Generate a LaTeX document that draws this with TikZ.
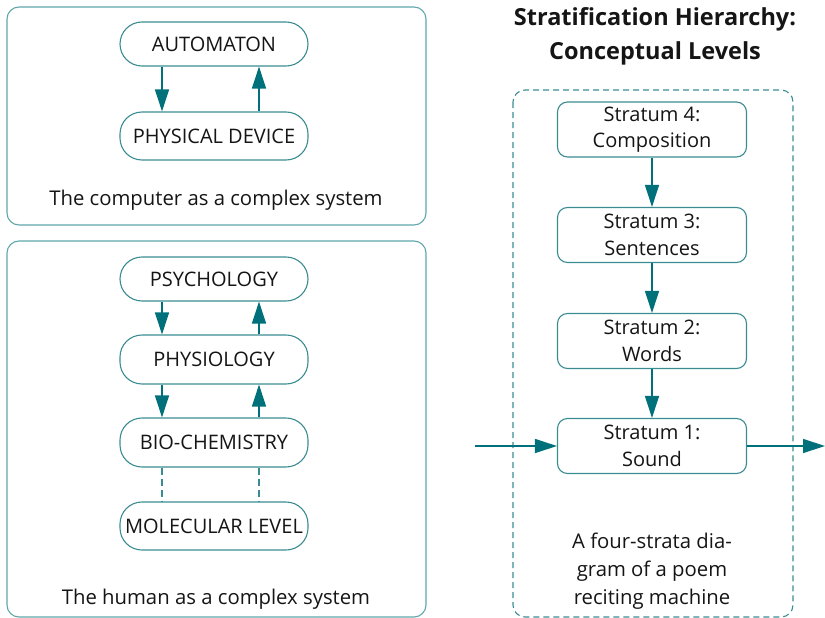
\documentclass[tikz,border=0pt]{standalone}
\usepackage{fontspec}
\setmainfont{Open Sans}
\usetikzlibrary{arrows.meta,positioning}

\definecolor{framecol}{HTML}{5FA7AC}
\definecolor{nodecol}{HTML}{3A8C92}
\definecolor{arrowcol}{HTML}{00707A}
\definecolor{textcol}{HTML}{151515}

\tikzset{
  frame/.style={draw=framecol, line width=1.1pt, rounded corners=12pt},
  dashframe/.style={draw=nodecol, line width=1.1pt, rounded corners=12pt, dash pattern=on 6pt off 4pt},
  pill/.style={draw=nodecol, line width=1.1pt, rounded corners=22pt, minimum width=188pt,
    minimum height=46pt, inner sep=0pt, font=\fontsize{20}{22}\selectfont, text=textcol},
  stratbox/.style={draw=nodecol, line width=1.1pt, rounded corners=10pt, minimum width=189pt,
    minimum height=55pt, inner sep=0pt, align=center, font=\fontsize{20}{26.5}\selectfont, text=textcol},
  caption/.style={font=\fontsize{20.3}{28}\selectfont, text=textcol, align=center},
  flow/.style={draw=arrowcol, line width=1.3pt, -{Triangle[width=14pt,length=22pt]}},
  tie/.style={draw=nodecol, line width=1.1pt, dash pattern=on 7pt off 4pt},
}

\begin{document}
\begin{tikzpicture}[x=1pt,y=-1pt]
\useasboundingbox (0,0) rectangle (825,618);

% --- computer as a complex system
\draw[frame] (7,7) rectangle (426,225);
\node[pill, minimum height=44pt] (auto) at (214,44) {AUTOMATON};
\node[pill, minimum height=48pt] (phys) at (214,136) {PHYSICAL DEVICE};
\node[caption] (capA) at (216,200) {The computer as a complex system};
\draw[flow] (auto.south -| 162,0) -- (phys.north -| 162,0);
\draw[flow] (phys.north -| 259,0) -- (auto.south -| 259,0);

% --- human as a complex system
\draw[frame] (7,241) rectangle (426,617);
\node[pill, minimum height=44pt] (psych) at (214,279) {PSYCHOLOGY};
\node[pill, minimum height=49pt] (physio) at (214,359.5) {PHYSIOLOGY};
\node[pill, minimum height=49pt] (bio) at (214,442.5) {BIO-CHEMISTRY};
\node[pill, minimum height=48pt] (mol) at (214,526) {MOLECULAR LEVEL};
\node[caption] (capB) at (216,599) {The human as a complex system};
\draw[flow] (psych.south -| 162,0) -- (physio.north -| 162,0);
\draw[flow] (physio.north -| 259,0) -- (psych.south -| 259,0);
\draw[flow] (physio.south -| 162,0) -- (bio.north -| 162,0);
\draw[flow] (bio.north -| 259,0) -- (physio.south -| 259,0);
\draw[tie] (bio.south -| 162,0) -- (mol.north -| 162,0);
\draw[tie] (bio.south -| 259,0) -- (mol.north -| 259,0);

% --- stratification hierarchy
\node[font=\fontsize{23.5}{34}\selectfont\bfseries, text=textcol, align=center] (title) at (655,36)
  {Stratification Hierarchy:\\Conceptual Levels};
\draw[dashframe] (513,90) rectangle (793,617);
\node[stratbox] (s4) at (652,129.5) {Stratum 4:\\Composition};
\node[stratbox] (s3) at (652,235) {Stratum 3:\\Sentences};
\node[stratbox] (s2) at (652,341) {Stratum 2:\\Words};
\node[stratbox] (s1) at (652,446) {Stratum 1:\\Sound};
\node[caption] (capC) at (652,571) {A four-strata dia-\\gram of a poem\\reciting machine};
\draw[flow] (s4) -- (s3);
\draw[flow] (s3) -- (s2);
\draw[flow] (s2) -- (s1);
\coordinate (inflow) at (475,446);
\coordinate (outflow) at (825,446);
\draw[flow] (inflow) -- (s1);
\draw[flow] (s1) -- (outflow);
\end{tikzpicture}
\end{document}
